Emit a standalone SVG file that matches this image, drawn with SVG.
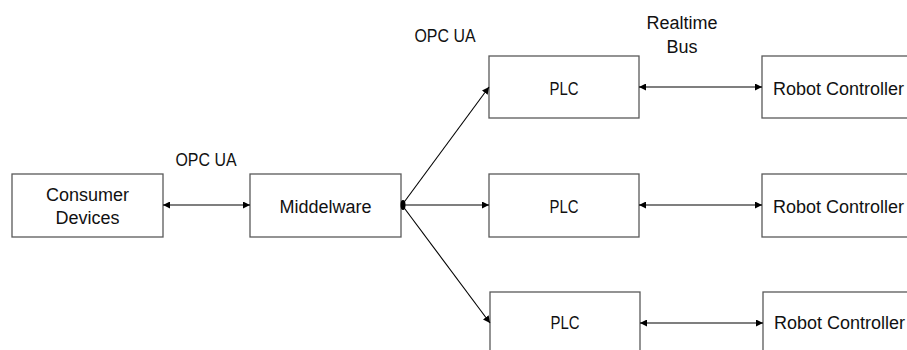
<svg xmlns="http://www.w3.org/2000/svg" width="907" height="350" viewBox="0 0 907 350">
<style>
.box{fill:#fff;stroke:#595959;stroke-width:1.3}
.t{font-family:"Liberation Sans",Arial,sans-serif;font-size:18px;fill:#111;text-anchor:middle}
.c{stroke:#000;stroke-width:1.1;fill:none}
</style>
<defs>
<marker id="ah" viewBox="0 0 10 10" refX="10" refY="5" markerWidth="7" markerHeight="7" markerUnits="userSpaceOnUse" orient="auto-start-reverse">
<path d="M0,0 L10,5 L0,10 z" fill="#000"/>
</marker>
</defs>
<rect width="907" height="350" fill="#fff"/>
<g id="consumer"><rect class="box" x="12" y="174" width="151" height="63"/><text class="t" x="87.5" y="201">Consumer</text><text class="t" x="87.5" y="224">Devices</text></g>
<g id="middelware"><rect class="box" x="250" y="174" width="151" height="63"/><text class="t" x="325.5" y="213">Middelware</text></g>
<g id="plc1"><rect class="box" x="489" y="56" width="150" height="62"/><text class="t" x="564" y="95" textLength="29" lengthAdjust="spacingAndGlyphs">PLC</text></g>
<g id="plc2"><rect class="box" x="489" y="174" width="150" height="63"/><text class="t" x="564" y="213" textLength="29" lengthAdjust="spacingAndGlyphs">PLC</text></g>
<g id="plc3"><rect class="box" x="490" y="292" width="150" height="63"/><text class="t" x="565" y="329" textLength="29" lengthAdjust="spacingAndGlyphs">PLC</text></g>
<g id="robot1"><rect class="box" x="762" y="56" width="152" height="62"/><text class="t" x="838.5" y="95">Robot Controller</text></g>
<g id="robot2"><rect class="box" x="762" y="174" width="152" height="63"/><text class="t" x="838.5" y="213">Robot Controller</text></g>
<g id="robot3"><rect class="box" x="763" y="292" width="152" height="63"/><text class="t" x="839.5" y="329">Robot Controller</text></g>
<g id="labels">
<text class="t" x="206" y="166" textLength="61" lengthAdjust="spacingAndGlyphs">OPC UA</text>
<text class="t" x="445" y="42" textLength="61" lengthAdjust="spacingAndGlyphs">OPC UA</text>
<text class="t" x="682" y="29">Realtime</text>
<text class="t" x="682" y="53">Bus</text>
</g>
<g id="connectors">
<line class="c" x1="163" y1="205" x2="250" y2="205" marker-start="url(#ah)" marker-end="url(#ah)"/>
<ellipse cx="403" cy="205" rx="2.5" ry="5" fill="#000"/>
<line class="c" x1="402" y1="205" x2="489" y2="87" marker-end="url(#ah)"/>
<line class="c" x1="402" y1="205" x2="489" y2="205" marker-end="url(#ah)"/>
<line class="c" x1="402" y1="205" x2="490" y2="323" marker-end="url(#ah)"/>
<line class="c" x1="639" y1="87" x2="762" y2="87" marker-start="url(#ah)" marker-end="url(#ah)"/>
<line class="c" x1="639" y1="205" x2="762" y2="205" marker-start="url(#ah)" marker-end="url(#ah)"/>
<line class="c" x1="640" y1="323" x2="763" y2="323" marker-start="url(#ah)" marker-end="url(#ah)"/>
</g>
</svg>
